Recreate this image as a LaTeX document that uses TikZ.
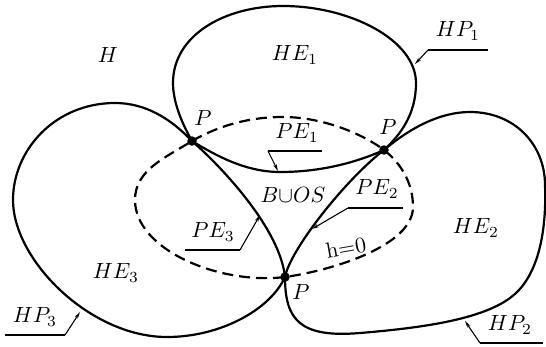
\documentclass[tikz,border=0pt]{standalone}
\usetikzlibrary{arrows.meta}
\begin{document}
\begin{tikzpicture}[x=1pt,y=-1pt,
  curve/.style={line width=2.2pt,line join=round},
  zero/.style={line width=2.2pt,dash pattern=on 11pt off 6pt},
  lbl/.style={inner sep=0pt,scale=2.2},
  uline/.style={line width=1.1pt},
  ptr/.style={line width=1.1pt,-{Stealth[length=7pt,width=3.5pt]}},
  dot/.style={circle,fill=black,inner sep=0pt,minimum size=9.5pt}]
\useasboundingbox (0,0) rectangle (546,346);
\coordinate (P1) at (192,141);
\coordinate (P2) at (384,150);
\coordinate (P3) at (285,277);
% HE1 loop
\draw[curve] (P1) .. controls (180,120) and (173,100) .. (173,83)
  .. controls (173,35) and (225,6) .. (283,6)
  .. controls (350,6) and (416,40) .. (416,83)
  .. controls (416,115) and (400,135) .. (P2);
\draw[curve] (P1) .. controls (215,155) and (245,172) .. (280,172)
  .. controls (320,172) and (355,163) .. (P2);
% HE3 loop
\draw[curve] (P1) .. controls (170,118) and (145,103) .. (115,103)
  .. controls (55,103) and (13,150) .. (13,200)
  .. controls (13,260) and (90,337) .. (167,337)
  .. controls (220,337) and (270,310) .. (P3);
\draw[curve] (P1) .. controls (225,170) and (280,230) .. (P3);
% HE2 loop
\draw[curve] (P2) .. controls (410,128) and (440,112) .. (470,112)
  .. controls (515,112) and (545,145) .. (545,185)
  .. controls (547,240) and (535,280) .. (510,298)
  .. controls (480,320) and (420,328) .. (360,333)
  .. controls (300,338) and (285,320) .. (P3);
\draw[curve] (P3) .. controls (290,250) and (345,180) .. (P2);
% h=0 curve
\draw[zero] (P1) .. controls (220,125) and (250,117) .. (283,117)
  .. controls (320,117) and (360,132) .. (P2)
  .. controls (403,165) and (413,185) .. (413,207)
  .. controls (413,245) and (335,270) .. (P3)
  .. controls (220,285) and (135,250) .. (135,200)
  .. controls (135,170) and (165,158) .. (P1);
% points
\node[dot] (d1) at (P1) {};
\node[dot] (d2) at (P2) {};
\node[dot] (d3) at (P3) {};
\node[lbl] (p1) at (203,118) {$P$};
\node[lbl] (p2) at (388,127) {$P$};
\node[lbl] (p3) at (301,292) {$P$};
% region labels
\node[lbl] (H) at (108,55) {$H$};
\node[lbl] (he1) at (295,55) {$HE_1$};
\node[lbl] (he2) at (476,228) {$HE_2$};
\node[lbl] (he3) at (116,273) {$HE_3$};
\node[lbl] (buos) at (293,195) {$B{\cup}OS$};
\node[lbl,rotate=10] (h0) at (346,248) {h=0};
% pointer labels
\node[lbl] (hp1) at (458,31) {$HP_1$};
\coordinate (u1a) at (428,50); \coordinate (u1b) at (488,50); \coordinate (t1) at (415,64);
\draw[uline] (u1a) -- (u1b); \draw[ptr] (u1a) -- (t1);
\node[lbl] (pe1) at (297,133) {$PE_1$};
\coordinate (e1a) at (268,151); \coordinate (e1b) at (322,151); \coordinate (s1) at (278,171);
\draw[uline] (e1a) -- (e1b); \draw[ptr] (e1a) -- (s1);
\node[lbl] (pe2) at (377,189) {$PE_2$};
\coordinate (e2a) at (348,208); \coordinate (e2b) at (403,208); \coordinate (s2) at (312,229);
\draw[uline] (e2a) -- (e2b); \draw[ptr] (e2a) -- (s2);
\node[lbl] (pe3) at (213,232) {$PE_3$};
\coordinate (e3a) at (185,250); \coordinate (e3b) at (240,250); \coordinate (s3) at (260,215);
\draw[uline] (e3a) -- (e3b); \draw[ptr] (e3b) -- (s3);
\node[lbl] (hp3) at (35,317) {$HP_3$};
\coordinate (u3a) at (5,335); \coordinate (u3b) at (65,335); \coordinate (t3) at (80,312);
\draw[uline] (u3a) -- (u3b); \draw[ptr] (u3b) -- (t3);
\node[lbl] (hp2) at (510,325) {$HP_2$};
\coordinate (u2a) at (480,343); \coordinate (u2b) at (543,343); \coordinate (t2) at (465,321);
\draw[uline] (u2a) -- (u2b); \draw[ptr] (u2a) -- (t2);
\end{tikzpicture}
\end{document}
